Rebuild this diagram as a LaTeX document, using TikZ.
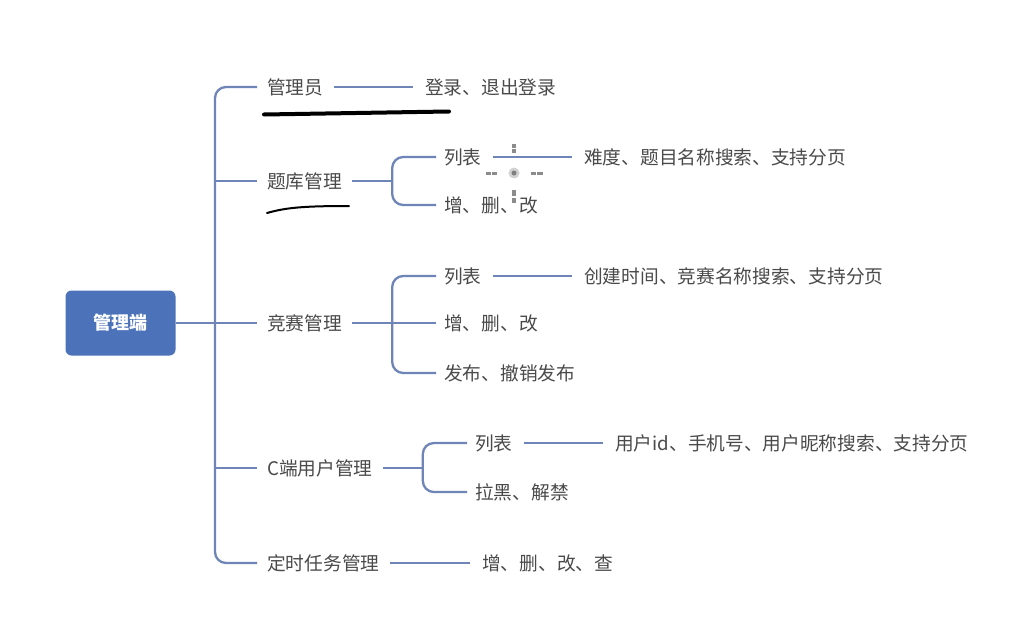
\documentclass[tikz,border=0pt]{standalone}
\usepackage{fontspec}
\usetikzlibrary{calc}
\setmainfont{Noto Sans CJK SC}
\definecolor{linec}{HTML}{6F85B8}
\definecolor{rootc}{HTML}{4C72B9}
\definecolor{txt}{HTML}{4A4A4A}
\begin{document}
\begin{tikzpicture}[x=1pt,y=-1pt,
  lbl/.style={anchor=west,inner sep=0pt,text=txt,font=\fontsize{18.7}{20}\selectfont},
  conn/.style={draw=linec,line width=2.3pt},
  rootbox/.style={fill=rootc,rounded corners=6pt,minimum width=110pt,minimum height=65pt,inner sep=0pt,text=white,font=\fontsize{18}{20}\selectfont\bfseries},
  ink/.style={draw=black,line cap=round},
  dot/.style={fill=black!45,draw=none}]
\useasboundingbox (0,0) rectangle (1033,627);
\fill[white] (0,0) rectangle (1033,627);
% root and level 1
\node[rootbox] (root) at (120.5,323) {管理端};
\node[lbl] (a) at (267,87) {管理员};
\node[lbl] (b) at (267,181) {题库管理};
\node[lbl] (c) at (267,323) {竞赛管理};
\node[lbl] (d) at (267,468) {C端用户管理};
\node[lbl] (e) at (267,563) {定时任务管理};
% level 2
\node[lbl] (a1) at (425,87) {登录、退出登录};
\node[lbl] (b1) at (444,157) {列表};
\node[lbl] (b2) at (444,205) {增、删、改};
\node[lbl] (c1) at (444,276) {列表};
\node[lbl] (c2) at (444,323) {增、删、改};
\node[lbl] (c3) at (444,373) {发布、撤销发布};
\node[lbl] (d1) at (475,443) {列表};
\node[lbl] (d2) at (475,492) {拉黑、解禁};
\node[lbl] (e1) at (482,563) {增、删、改、查};
% level 3
\node[lbl] (b1a) at (584,157) {难度、题目名称搜索、支持分页};
\node[lbl] (c1a) at (584,276) {创建时间、竞赛名称搜索、支持分页};
\node[lbl] (d1a) at (615,443) {用户id、手机号、用户昵称搜索、支持分页};
% spine
\coordinate (sp) at (215,323);
\draw[conn] (root.east) -- ($(c.west)+(-10,0)$);
\draw[conn,rounded corners=11pt] ($(a.west)+(-10,0)$) -- (sp |- a.west) -- (sp |- e.west) -- ($(e.west)+(-10,0)$);
\draw[conn] (sp |- b.west) -- ($(b.west)+(-10,0)$);
\draw[conn] (sp |- d.west) -- ($(d.west)+(-10,0)$);
% level 1 to 2
\draw[conn] ($(a.east)+(10,0)$) -- ($(a1.west)+(-12,0)$);
\draw[conn] ($(e.east)+(10,0)$) -- ($(e1.west)+(-12,0)$);
\foreach \p/\q/\r in {b/b1/b2,c/c1/c3,d/d1/d2}{
  \coordinate (j) at ($(\p.east)+(50,0)$);
  \draw[conn] ($(\p.east)+(10,0)$) -- (j);
  \draw[conn,rounded corners=11pt] ($(\q.west)+(-8,0)$) -- (j |- \q.west) -- (j |- \r.west) -- ($(\r.west)+(-8,0)$);
}
\draw[conn] ($(c.east)+(50,0)$) -- ($(c2.west)+(-8,0)$);
% level 2 to 3
\draw[conn] ($(b1.east)+(11,0)$) -- ($(b1a.west)+(-12,0)$);
\draw[conn] ($(c1.east)+(11,0)$) -- ($(c1a.west)+(-12,0)$);
\draw[conn] ($(d1.east)+(11,0)$) -- ($(d1a.west)+(-12,0)$);
% hand-drawn underlines
\draw[ink,line width=4pt] (264,114.5) -- (295,114) -- (356,113) -- (417,112) -- (449,111.5);
\draw[ink,line width=2pt] (267,213) .. controls (285,208) and (300,206) .. (349,206);
% selection handle marks
\fill[dot] (512,144) rectangle (516,147.5);
\fill[dot] (512,149) rectangle (516,152.5);
\fill[dot] (486,171.5) rectangle (491,175);
\fill[dot] (492,171.5) rectangle (497,175);
\fill[dot] (531,171.5) rectangle (536,175);
\fill[dot] (537,171.5) rectangle (543,175);
\fill[black!18] (514,173) circle (5.5pt);
\fill[black!50] (514,173) circle (2.5pt);
\fill[dot] (512,190) rectangle (516,196);
\fill[dot] (512,198) rectangle (516,203);
\end{tikzpicture}
\end{document}
